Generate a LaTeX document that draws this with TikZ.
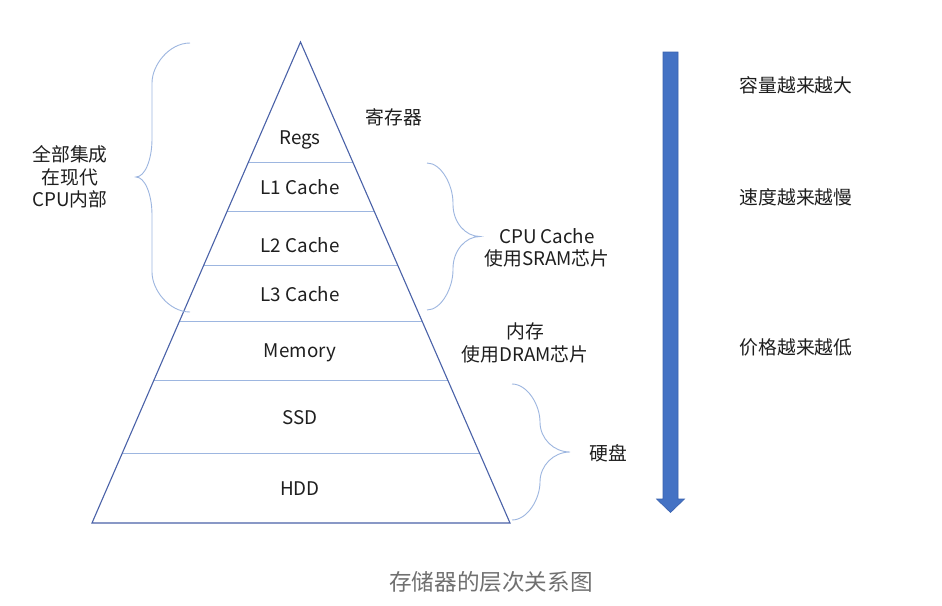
\documentclass[tikz,border=0pt]{standalone}
\usepackage{fontspec}
\setmainfont{Noto Sans CJK SC}
\usetikzlibrary{calc}
\definecolor{edgeblue}{HTML}{4A62A8}
\definecolor{lineblue}{HTML}{9DB6E0}
\definecolor{arrowfill}{HTML}{4472C4}
\definecolor{arrowdraw}{HTML}{3A62AE}
\definecolor{txt}{HTML}{1E1E1E}
\definecolor{captiongray}{HTML}{707070}
% brace: e = end x, v = vertical x, t = tip x, T = top y, M = mid y, B = bottom y, r1 = outer corner, r2 = inner corner
\newcommand{\mybrace}[8]{%
  \draw[bracestyle] (#1,#4) .. controls ({#2+(#1-#2)*0.45},#4) and (#2,{#4+#7*0.55}) .. (#2,{#4+#7})
    -- (#2,{#5-#8}) .. controls (#2,{#5-#8*0.45}) and ({#3+(#2-#3)*0.55},#5) .. (#3,#5)
    .. controls ({#3+(#2-#3)*0.55},#5) and (#2,{#5+#8*0.45}) .. (#2,{#5+#8})
    -- (#2,{#6-#7}) .. controls (#2,{#6-#7*0.55}) and ({#2+(#1-#2)*0.45},#6) .. (#1,#6);}
\begin{document}
\begin{tikzpicture}[x=1pt,y=-1pt,
  lbl/.style={font=\fontsize{18.8}{22.5}\selectfont, text=txt, align=center, inner sep=0pt},
  layerline/.style={draw=lineblue, line width=0.9pt},
  edge/.style={draw=edgeblue, line width=1.1pt},
  bracestyle/.style={draw=lineblue, line width=0.9pt}]
\useasboundingbox (0,0) rectangle (942,605);
\fill[white] (0,0) rectangle (942,605);
\coordinate (apex) at (300.5,42);
\coordinate (bl) at (92,523);
\coordinate (br) at (510,523);
% layer lines
\foreach \yy in {162,211,265,321,380,453}{
  \draw[layerline] ($(apex)!{(\yy-42)/481}!(bl)$) -- ($(apex)!{(\yy-42)/481}!(br)$);
}
% pyramid
\draw[edge, line join=miter] (apex) -- (bl) -- (br) -- cycle;
% layer labels
\node[lbl] (regs) at (300,139.5) {Regs};
\node[lbl] (l1) at (300,187) {L1 Cache};
\node[lbl] (l2) at (300,245) {L2 Cache};
\node[lbl] (l3) at (300,294) {L3 Cache};
\node[lbl] (mem) at (300,353) {Memory};
\node[lbl] (ssd) at (300,418) {SSD};
\node[lbl] (hdd) at (300,489) {HDD};
% braces
\mybrace{190}{152}{136}{43}{177}{312}{40}{38}
\mybrace{427}{453}{480}{163}{236.5}{310}{40}{32}
\mybrace{512}{540}{570}{384}{452}{520}{38}{30}
% side labels
\node[lbl] (cpu) at (70,177) {全部集成\\在现代\\CPU内部};
\node[lbl] (reg) at (394,117) {寄存器};
\node[lbl] (sram) at (547,248) {CPU Cache\\使用SRAM芯片};
\node[lbl] (dram) at (525,343) {内存\\使用DRAM芯片};
\node[lbl] (disk) at (608,453) {硬盘};
% arrow
\filldraw[fill=arrowfill, draw=arrowdraw, line width=0.6pt, line join=miter]
  (663,52) -- (678,52) -- (678,499) -- (684.5,499) -- (670.5,512.5) -- (656.5,499) -- (663,499) -- cycle;
\node[lbl] (cap) at (796,85) {容量越来越大};
\node[lbl] (spd) at (796,197) {速度越来越慢};
\node[lbl] (price) at (796,347) {价格越来越低};
% caption
\node[lbl, font=\fontsize{22.6}{26}\selectfont, text=captiongray] (title) at (491,582) {存储器的层次关系图};
\end{tikzpicture}
\end{document}
